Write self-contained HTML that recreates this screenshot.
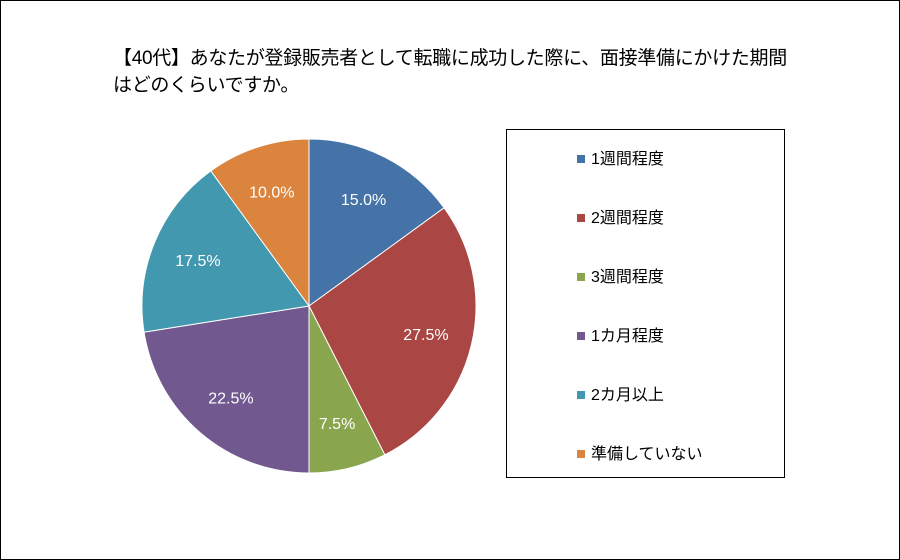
<!DOCTYPE html>
<html><head><meta charset="utf-8"><style>
body{margin:0;background:#fff}
#wrap{position:relative;width:898px;height:558px;border:1px solid #000;background:#fff;font-family:"Liberation Sans","Noto Sans CJK JP",sans-serif;overflow:hidden}
#title{position:absolute;left:112px;top:44px;font-size:19px;line-height:27px;color:#000;letter-spacing:-0.3px}
#legend{position:absolute;left:505px;top:128px;width:277px;height:347px;border:1px solid #000}
.le{position:absolute;left:70px;font-size:16px;color:#000;height:20px;line-height:20px}
.le span.m{display:inline-block;width:8px;height:8px;margin-right:6px;vertical-align:1px}
</style></head><body>
<div id="wrap">
<div id="title">【40代】あなたが登録販売者として転職に成功した際に、面接準備にかけた期間<br>はどのくらいですか。</div>
<svg id="pie" width="898" height="558" style="position:absolute;left:0;top:0"></svg>
<div id="legend"></div>
</div>
<script>
const categories=["1週間程度","2週間程度","3週間程度","1カ月程度","2カ月以上","準備していない"];
const values=[15.0,27.5,7.5,22.5,17.5,10.0];
const labels=["15.0%","27.5%","7.5%","22.5%","17.5%","10.0%"];
const colors=["#4572a7","#aa4643","#89a54e","#71588f","#4198af","#db843d"];
const svg=document.getElementById('pie');
const NS="http://www.w3.org/2000/svg";
const cx=308,cy=305,r=167;
const total=values.reduce((a,b)=>a+b,0);
let a0=0;
values.forEach((v,i)=>{
  const a1=a0+v/total*2*Math.PI;
  const x0=cx+r*Math.sin(a0),y0=cy-r*Math.cos(a0),x1=cx+r*Math.sin(a1),y1=cy-r*Math.cos(a1);
  const p=document.createElementNS(NS,'path');
  p.setAttribute('d',`M${cx},${cy}L${x0},${y0}A${r},${r} 0 ${a1-a0>Math.PI?1:0} 1 ${x1},${y1}Z`);
  p.setAttribute('fill',colors[i]);p.setAttribute('stroke','#fff');p.setAttribute('stroke-width','1');
  
  
  svg.appendChild(p);
  const am=(a0+a1)/2;
  const t=document.createElementNS(NS,'text');
  t.setAttribute('x',cx+0.72*r*Math.sin(am));t.setAttribute('y',cy-0.72*r*Math.cos(am)+6);
  t.setAttribute('text-anchor','middle');t.setAttribute('fill','#fff');t.setAttribute('font-size','16');
  t.setAttribute('font-family','"Liberation Sans",sans-serif');
  t.textContent=labels[i];
  
  
  svg.appendChild(t);
  a0=a1;
});
const lg=document.getElementById('legend');
categories.forEach((c,i)=>{
  const d=document.createElement('div');d.className='le';d.style.top=(20+i*59)+'px';
  d.innerHTML='<span class="m" style="background:'+colors[i]+'"></span>'+c;
  
  
  lg.appendChild(d);
});
</script>
</body></html>
